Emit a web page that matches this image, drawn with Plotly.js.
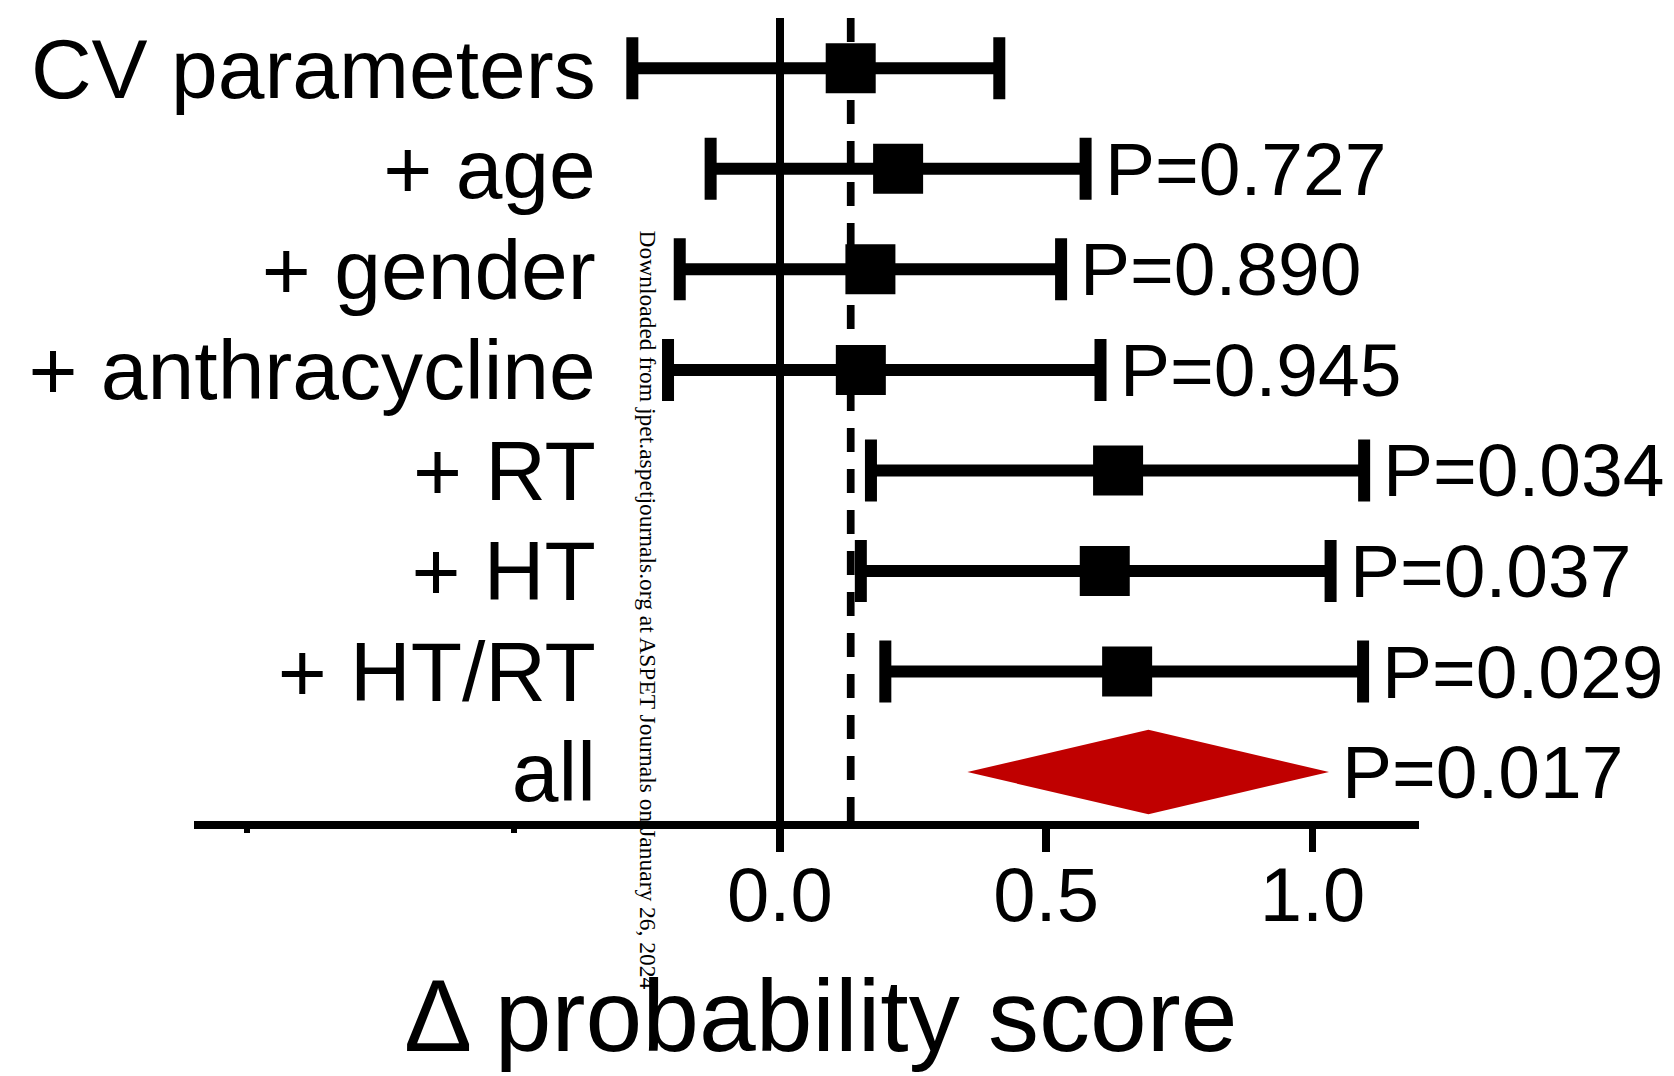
<!DOCTYPE html>
<html>
<head>
<meta charset="utf-8">
<script src="https://cdn.plot.ly/plotly-3.0.1.min.js"></script>
<style>
  html, body { margin: 0; padding: 0; background: #ffffff; }
  #chart { width: 1674px; height: 1076px; }
</style>
</head>
<body>
<div id="chart"></div>
<script>
// ---- data ----
const categories = ['CV parameters', '+ age', '+ gender', '+ anthracycline', '+ RT', '+ HT', '+ HT/RT'];
const estimate   = [0.133, 0.222, 0.170, 0.152, 0.635, 0.610, 0.652];
const lowerCI    = [-0.277, -0.130, -0.188, -0.210, 0.171, 0.152, 0.198];
const upperCI    = [0.412, 0.574, 0.528, 0.602, 1.097, 1.034, 1.095];
const pLabels    = ['', 'P=0.727', 'P=0.890', 'P=0.945', 'P=0.034', 'P=0.037', 'P=0.029'];

const pooledLabel    = 'all';
const pooledEstimate = 0.692;
const pooledLower    = 0.352;
const pooledUpper    = 1.031;
const pooledP        = 'P=0.017';

const xTickVals  = [0, 0.5, 1.0];
const xTickText  = ['0.0', '0.5', '1.0'];
const xMinorVals = [-1.0, -0.5];

const xTitle    = 'Δ probability score';
const watermark = 'Downloaded from jpet.aspetjournals.org at ASPET Journals on January 26, 2024';

// ---- build ----
const FONT = 'Liberation Sans, Arial, Helvetica, sans-serif';
const rowIdx = categories.map((_, i) => i);
const pooledRow = categories.length;
const allLabels = categories.concat([pooledLabel]);
const allIdx = allLabels.map((_, i) => i);
const diamondHalf = 0.42; // half height of the pooled diamond, in rows

const traces = [
  {
    type: 'scatter',
    mode: 'markers',
    x: estimate,
    y: rowIdx,
    marker: { symbol: 'square', size: 50, color: '#000000', line: { width: 0 } },
    error_x: {
      type: 'data',
      symmetric: false,
      array: estimate.map((e, i) => upperCI[i] - e),
      arrayminus: estimate.map((e, i) => e - lowerCI[i]),
      color: '#000000',
      thickness: 12,
      width: 31
    },
    hoverinfo: 'skip',
    showlegend: false
  },
  {
    type: 'scatter',
    mode: 'lines',
    x: [pooledLower, pooledEstimate, pooledUpper, pooledEstimate, pooledLower],
    y: [pooledRow, pooledRow - diamondHalf, pooledRow, pooledRow + diamondHalf, pooledRow],
    fill: 'toself',
    fillcolor: '#C00000',
    line: { width: 0, color: '#C00000' },
    hoverinfo: 'skip',
    showlegend: false
  }
];

const annotations = [];
pLabels.forEach((t, i) => {
  if (!t) return;
  annotations.push({
    x: upperCI[i], y: i, xref: 'x', yref: 'y',
    text: t, showarrow: false, xanchor: 'left', yanchor: 'middle',
    xshift: 17,
    font: { family: FONT, size: 75, color: '#000000' }
  });
});
annotations.push({
  x: pooledUpper, y: pooledRow, xref: 'x', yref: 'y',
  text: pooledP, showarrow: false, xanchor: 'left', yanchor: 'middle',
  xshift: 11,
  font: { family: FONT, size: 75, color: '#000000' }
});
annotations.push({
  x: 0.3705, y: 0.7374, xref: 'paper', yref: 'paper',
  text: watermark, showarrow: false, textangle: 90,
  xanchor: 'center', yanchor: 'top',
  font: { family: 'Liberation Serif, Times New Roman, serif', size: 23.5, color: '#000000' }
});

const layout = {
  width: 1674,
  height: 1076,
  margin: { l: 194, r: 254.6, t: 18, b: 255.3, pad: 0 },
  paper_bgcolor: '#ffffff',
  plot_bgcolor: '#ffffff',
  font: { family: FONT, color: '#000000' },
  showlegend: false,
  xaxis: {
    range: [-1.1, 1.2],
    showgrid: false,
    zeroline: true,
    zerolinecolor: '#000000',
    zerolinewidth: 7.5,
    showline: true,
    linecolor: '#000000',
    linewidth: 8,
    ticks: 'outside',
    ticklen: 23,
    tickwidth: 7.7,
    tickcolor: '#000000',
    tickmode: 'array',
    tickvals: xTickVals,
    ticktext: xTickText,
    ticklabelstandoff: -22,
    tickfont: { family: FONT, size: 76, color: '#000000' },
    minor: { tickmode: 'array', tickvals: xMinorVals, ticks: 'outside', ticklen: 4, tickwidth: 6, tickcolor: '#000000', showgrid: false },
    title: { text: '<span>&nbsp;</span>' + xTitle, font: { family: FONT, size: 102, color: '#000000' }, standoff: 46 },
    automargin: false,
    fixedrange: true
  },
  yaxis: {
    range: [7.487, -0.5],
    anchor: 'free',
    position: 0.328,
    showgrid: false,
    zeroline: false,
    showline: false,
    ticks: '',
    tickmode: 'array',
    tickvals: allIdx,
    ticktext: allLabels,
    tickfont: { family: FONT, size: 84, color: '#000000' },
    automargin: false,
    fixedrange: true
  },
  shapes: [
    {
      type: 'line', xref: 'x', yref: 'paper',
      x0: estimate[0], x1: estimate[0], y0: 1, y1: 0,
      line: { color: '#000000', width: 7.7, dash: '24px,17px' },
      layer: 'below'
    }
  ],
  annotations: annotations
};

Plotly.newPlot('chart', traces, layout, { staticPlot: true, displayModeBar: false });
</script>
</body>
</html>
